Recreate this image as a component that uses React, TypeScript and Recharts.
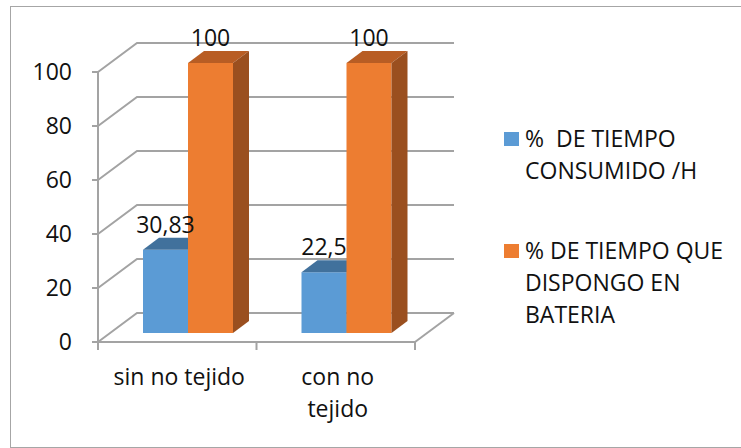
import { BarChart, Bar, XAxis, YAxis, CartesianGrid, Legend, LabelList } from 'recharts'

const categories = ['sin no tejido', 'con no tejido']
const categoryLines = [['sin no tejido'], ['con no', 'tejido']]
const consumido = [30.83, 22.5]
const bateria = [100, 100]
const seriesNames = ['%  DE TIEMPO CONSUMIDO /H', '% DE TIEMPO QUE DISPONGO EN BATERIA']
const legendLines = [
  ['%  DE TIEMPO', 'CONSUMIDO /H'],
  ['% DE TIEMPO QUE', 'DISPONGO EN', 'BATERIA'],
]
const yTicks = [0, 20, 40, 60, 80, 100]

const data = categories.map((name, i) => ({ name, consumido: consumido[i], bateria: bateria[i] }))

// fake 3d: back wall offset, bar offset into the floor, bar depth
const WALL_DX = 39
const WALL_DY = 29
const BAR_DX = 11
const BAR_DY = 9
const DEPTH_DX = 16
const DEPTH_DY = 12

const FONT = '"Open Sans", sans-serif'
const GRID = '#a3a3a3'
const TEXT = '#111'

const renderGridLine = (props: any) => {
  const { x1, x2, y1, index } = props
  const d = `M${x1},${y1} L${x1 + WALL_DX},${y1 - WALL_DY} L${x2 + WALL_DX},${y1 - WALL_DY}`
  return <path key={`grid-${index}`} d={d} fill="none" stroke={GRID} strokeWidth={2} />
}

const makeBarShape = (front: string, top: string, side: string) => (props: any) => {
  const { x, y, width, height } = props
  const fx = x + BAR_DX
  const fy = y - BAR_DY
  return (
    <g>
      <rect x={fx} y={fy} width={width} height={height} fill={front} />
      <path
        d={`M${fx},${fy} L${fx + DEPTH_DX},${fy - DEPTH_DY} L${fx + width + DEPTH_DX},${fy - DEPTH_DY} L${fx + width},${fy} Z`}
        fill={top}
      />
      <path
        d={`M${fx + width},${fy} L${fx + width + DEPTH_DX},${fy - DEPTH_DY} L${fx + width + DEPTH_DX},${fy + height - DEPTH_DY} L${fx + width},${fy + height} Z`}
        fill={side}
      />
    </g>
  )
}

const renderValueLabel = (props: any) => {
  const { x, y, width, value } = props
  return (
    <text x={x + width / 2 + BAR_DX} y={y - 26} textAnchor="middle" fontSize={23} fontFamily={FONT} fill={TEXT}>
      {String(value).replace('.', ',')}
    </text>
  )
}

const CategoryTick = (props: any) => {
  const { x, y, index, width, visibleTicksCount } = props
  const half = width / (visibleTicksCount || categories.length) / 2
  const lines = categoryLines[index] || [props.payload.value]
  const last = index === categories.length - 1
  return (
    <g>
      {index === 0 && <line x1={x - half} y1={y} x2={x - half} y2={y + 8} stroke={GRID} strokeWidth={2} />}
      <line x1={x + half} y1={y} x2={x + half} y2={y + 8} stroke={GRID} strokeWidth={2} />
      {last && (
        <line x1={x + half} y1={y} x2={x + half + WALL_DX} y2={y - WALL_DY} stroke={GRID} strokeWidth={2} />
      )}
      {lines.map((t, i) => (
        <text key={i} x={x + 2} y={y + 43 + i * 32} textAnchor="middle" fontSize={23} fontFamily={FONT} fill={TEXT}>
          {t}
        </text>
      ))}
    </g>
  )
}

const renderLegend = (props: any) => {
  const { payload = [] } = props
  return (
    <svg width={741} height={448} style={{ position: 'absolute', left: 0, top: 0 }}>
      {payload.map((entry: any, i: number) => {
        const base = 147 + i * 112
        return (
          <g key={i}>
            <rect x={504} y={base - 15} width={15} height={14} fill={entry.color} />
            {(legendLines[i] || [entry.value]).map((t, j) => (
              <text
                key={j}
                x={525}
                y={base + j * 32}
                fontSize={23}
                fontFamily={FONT}
                fill={TEXT}
                style={{ whiteSpace: 'pre' }}
              >
                {t}
              </text>
            ))}
          </g>
        )
      })}
    </svg>
  )
}

export default function App() {
  return (
    <div style={{ position: 'absolute', left: 0, top: 0, width: 741, height: 448, background: '#fff', overflow: 'hidden' }}>
      <div
        style={{
          position: 'absolute',
          left: 10,
          top: 6,
          width: 740,
          height: 440,
          border: '1px solid #a6a6a6',
        }}
      />
      <BarChart
        width={741}
        height={448}
        data={data}
        margin={{ top: 72, right: 326, bottom: 76, left: 38 }}
        barSize={45}
        barGap={0}
        style={{ position: 'absolute', left: 0, top: 0 }}
      >
        <CartesianGrid vertical={false} horizontal={renderGridLine} />
        <XAxis
          dataKey="name"
          height={30}
          axisLine={{ stroke: GRID, strokeWidth: 2 }}
          tickLine={false}
          tickSize={0}
          tickMargin={0}
          interval={0}
          tick={<CategoryTick />}
        />
        <YAxis
          width={60}
          domain={[0, 100]}
          ticks={yTicks}
          interval={0}
          axisLine={{ stroke: GRID, strokeWidth: 2 }}
          tickLine={{ stroke: GRID, strokeWidth: 2 }}
          tickSize={6}
          tickMargin={20}
          tick={{ fontSize: 23, fontFamily: FONT, fill: TEXT }}
        />
        <Legend
          layout="horizontal"
          verticalAlign="middle"
          align="center"
          wrapperStyle={{ left: 0, top: 0, width: 741, height: 448 }}
          content={renderLegend}
        />
        <Bar
          dataKey="consumido"
          name={seriesNames[0]}
          fill="#5b9bd5"
          shape={makeBarShape('#5b9bd5', '#41719c', '#3a6690')}
          isAnimationActive={false}
        >
          <LabelList dataKey="consumido" content={renderValueLabel} />
        </Bar>
        <Bar
          dataKey="bateria"
          name={seriesNames[1]}
          fill="#ed7d31"
          shape={makeBarShape('#ed7d31', '#b85d24', '#9a4f1f')}
          isAnimationActive={false}
        >
          <LabelList dataKey="bateria" content={renderValueLabel} />
        </Bar>
      </BarChart>
    </div>
  )
}
